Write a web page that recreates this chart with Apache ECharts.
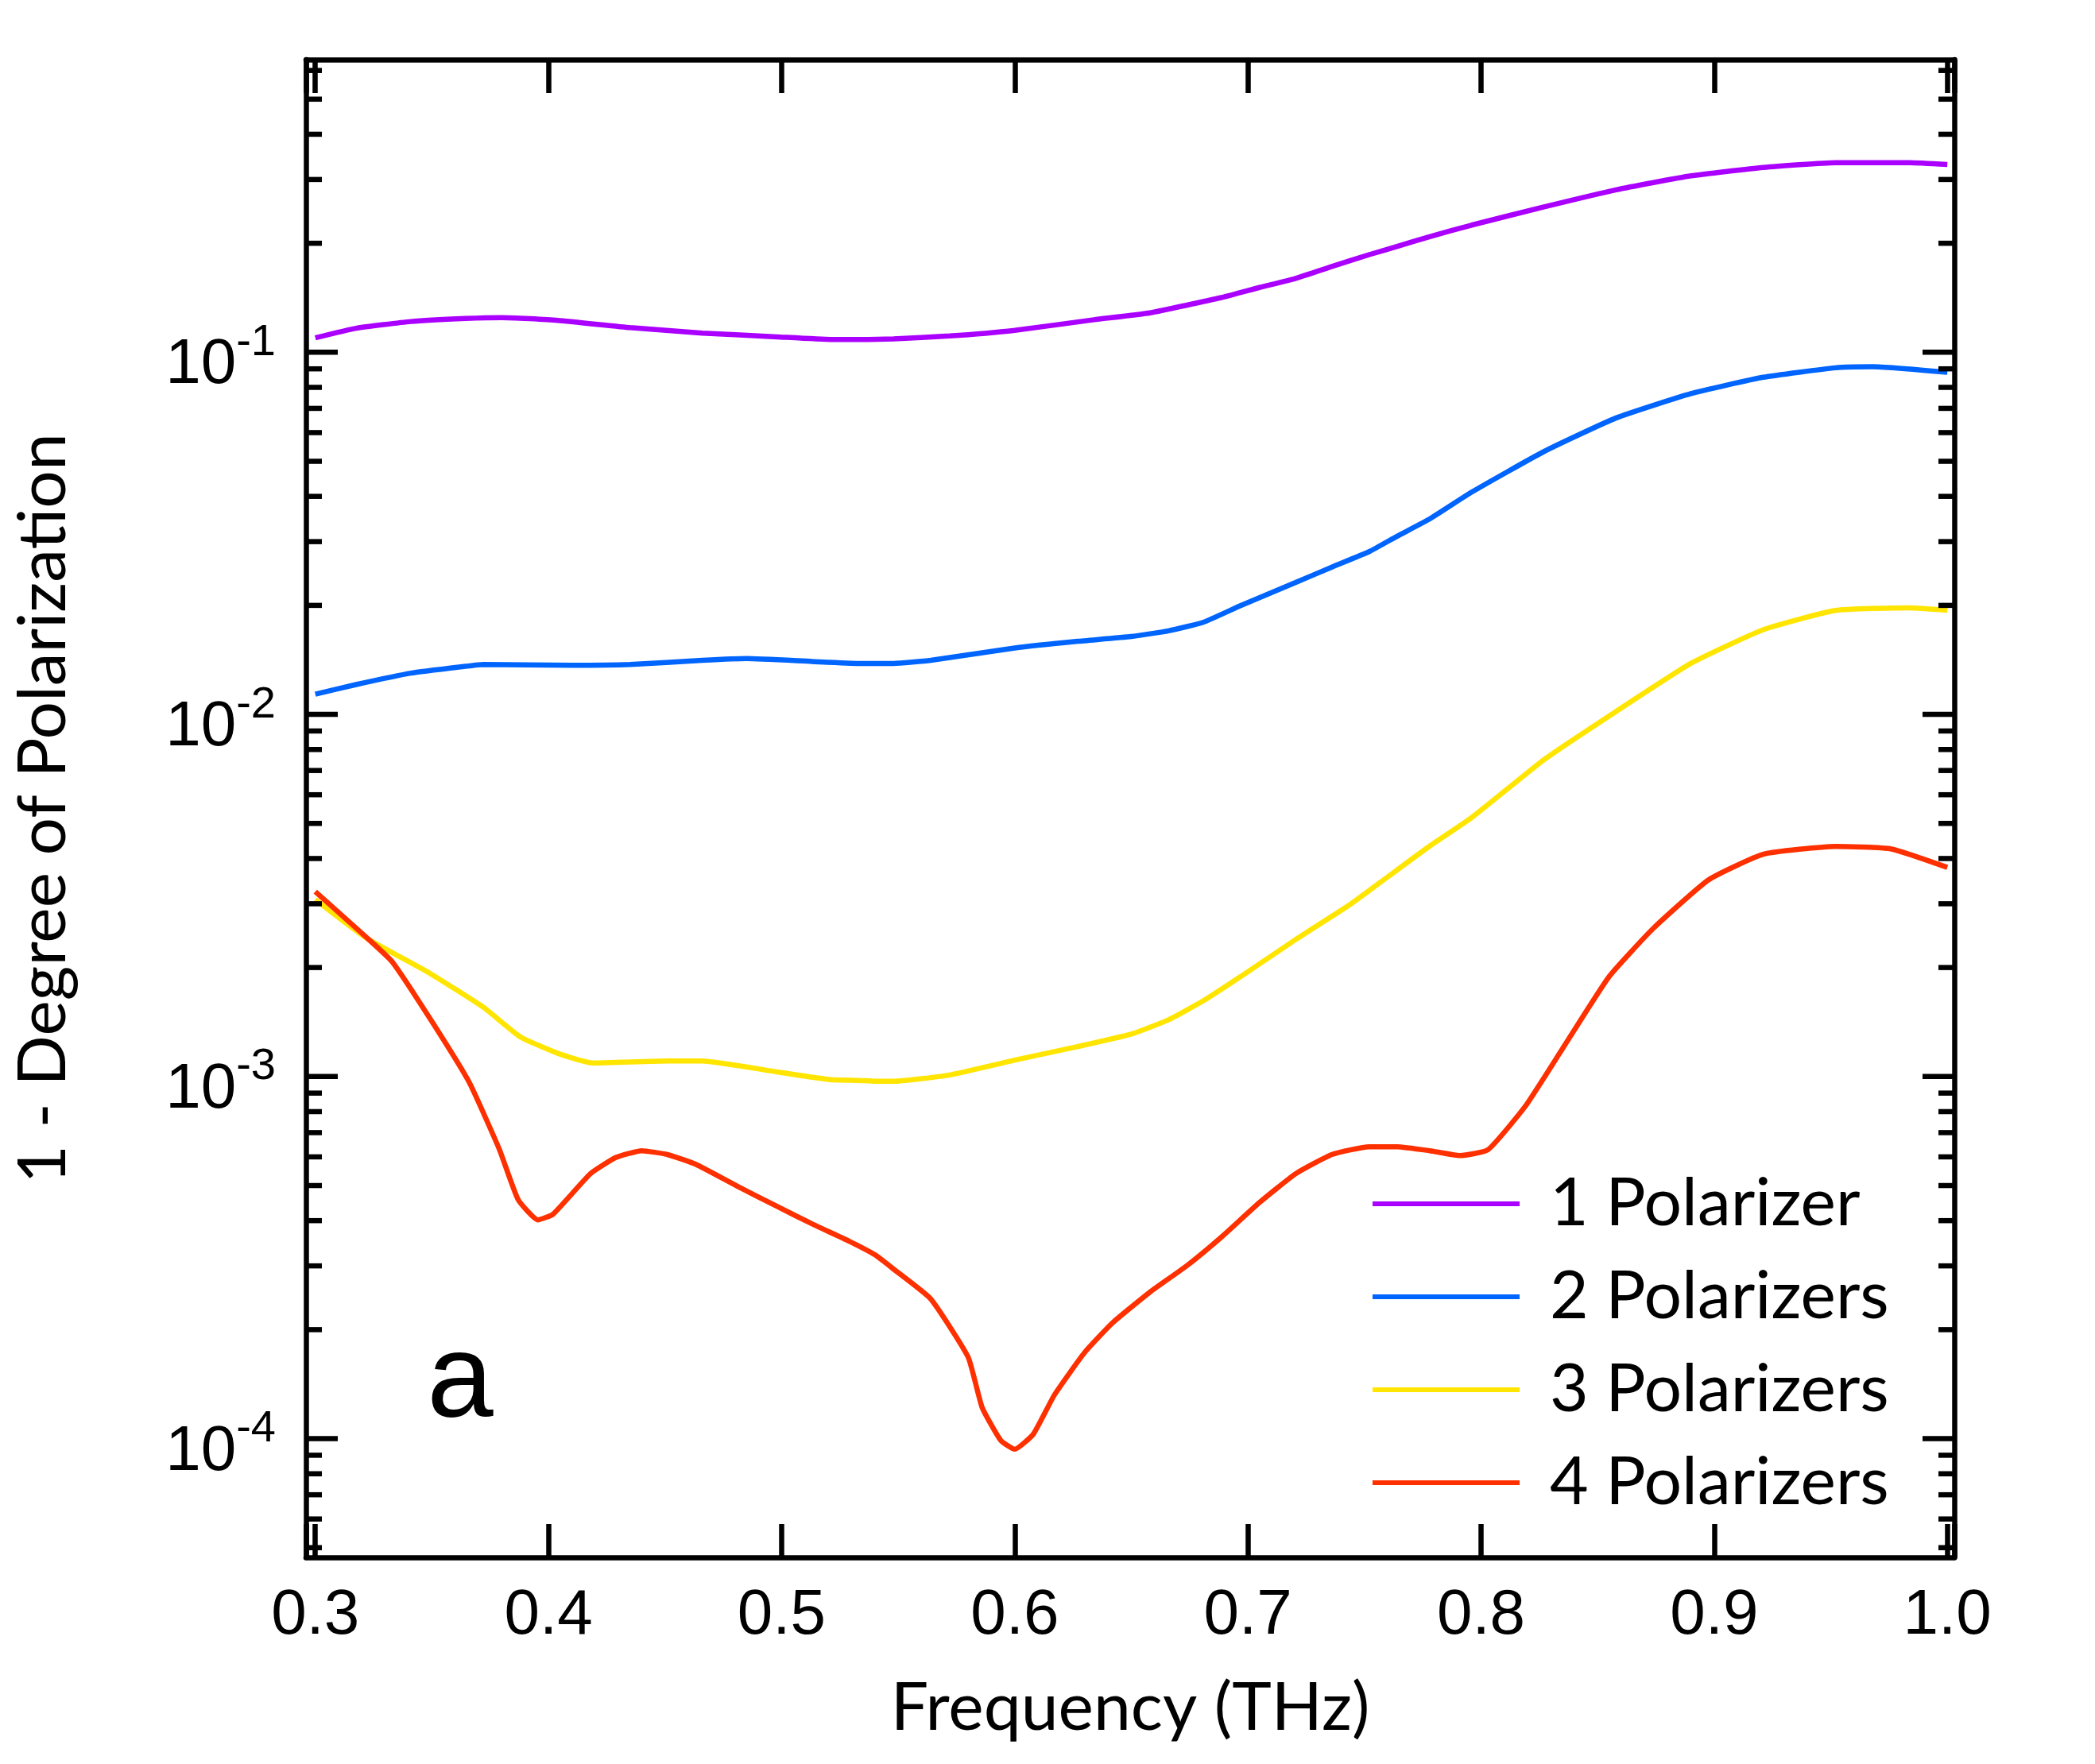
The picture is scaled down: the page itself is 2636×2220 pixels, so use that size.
<!DOCTYPE html>
<html>
<head>
<meta charset="utf-8">
<script src="https://cdn.jsdelivr.net/npm/echarts@6/dist/echarts.min.js"></script>
<style>
html,body{margin:0;padding:0;background:#fff}
#chart{width:2636px;height:2220px}
</style>
</head>
<body>
<div id="chart"></div>
<script>
// values
var freq1 = [0.300,0.3175,0.341,0.3645,0.380,0.404,0.435,0.466,0.498,0.521,0.533,0.548,0.572,0.600,0.634,0.658,0.689,0.705,0.7205,0.736,0.752,0.764,0.778,0.796,0.827,0.858,0.890,0.921,0.952,0.984,1.0];
var pol1  = [0.1096,0.1165,0.1216,0.124,0.1247,0.1225,0.117,0.113,0.1103,0.1085,0.1085,0.1089,0.1109,0.115,0.123,0.1285,0.1418,0.151,0.160,0.1725,0.186,0.196,0.2086,0.2245,0.252,0.281,0.307,0.324,0.334,0.334,0.330];

var freq2 = [0.300,0.3175,0.341,0.3645,0.372,0.410,0.435,0.466,0.485,0.513,0.533,0.548,0.564,0.600,0.627,0.650,0.666,0.681,0.697,0.7205,0.736,0.752,0.764,0.778,0.796,0.827,0.858,0.890,0.921,0.952,0.968,1.0];
var pol2  = [0.01137,0.01209,0.0130,0.01358,0.01374,0.01367,0.01374,0.0141,0.01426,0.0140,0.01383,0.01383,0.0141,0.01526,0.01592,0.01641,0.01702,0.01798,0.01999,0.02313,0.02552,0.02814,0.03105,0.03466,0.0411,0.0532,0.0659,0.0769,0.0853,0.0906,0.0912,0.088];

var freq3 = [0.300,0.322,0.349,0.372,0.388,0.404,0.419,0.451,0.466,0.498,0.521,0.533,0.540,0.548,0.572,0.600,0.627,0.650,0.666,0.681,0.697,0.7205,0.744,0.760,0.778,0.796,0.827,0.858,0.890,0.921,0.952,0.984,1.0];
var pol3  = [0.00308,0.00241,0.00193,0.001555,0.001286,0.001159,0.00109,0.001104,0.001104,0.00103,0.00098,0.000976,0.00097,0.00097,0.00101,0.00111,0.00121,0.00131,0.001435,0.00162,0.00189,0.00239,0.00299,0.00356,0.00433,0.00519,0.0075,0.0102,0.01383,0.01714,0.01937,0.0197,0.0194];

var freq4 = [0.300,0.322,0.333,0.350,0.366,0.379,0.387,0.3955,0.402,0.418,0.429,0.440,0.451,0.463,0.482,0.498,0.513,0.529,0.540,0.548,0.564,0.580,0.586,0.594,0.600,0.608,0.617,0.630,0.642,0.658,0.674,0.689,0.705,0.7205,0.736,0.752,0.764,0.778,0.791,0.803,0.819,0.835,0.855,0.874,0.8975,0.921,0.952,0.976,1.0];
var pol4  = [0.00324,0.00242,0.002074,0.001419,0.000964,0.000628,0.000457,0.000402,0.000417,0.000539,0.000598,0.000624,0.000609,0.000573,0.000494,0.000438,0.000392,0.000351,0.000322,0.000294,0.000243,0.000168,0.000122,0.0000989,0.0000935,0.000103,0.000132,0.000173,0.000209,0.000254,0.000301,0.000362,0.000449,0.000539,0.000609,0.00064,0.00064,0.000624,0.000605,0.000628,0.000828,0.001195,0.00189,0.00257,0.00349,0.00411,0.00432,0.00425,0.00378];

var seriesNames  = ['1 Polarizer','2 Polarizers','3 Polarizers','4 Polarizers'];
var seriesColors = ['#aa00ff','#0064ff','#ffe500','#ff3000'];
var yTickPowers  = [-4,-3,-2,-1];
var minorMult    = [2,3,4,5,6,7,8,9];

var X_MIN = 0.296, X_MAX = 1.003;
var Y_MIN = 4.7e-5, Y_MAX = 0.643;

function pairs(xs, ys){
    var out = [];
    for (var i = 0; i < xs.length; i++) out.push([xs[i], ys[i]]);
    return out;
}

// y ticks (major + minor) drawn on both sides of the frame
var yTicks = [];
for (var d = -5; d <= 0; d++) {
    if (yTickPowers.indexOf(d) >= 0) yTicks.push([X_MIN, Math.pow(10, d), 40]);
    for (var k = 0; k < minorMult.length; k++) {
        var v = minorMult[k] * Math.pow(10, d);
        if (v > Y_MIN && v < Y_MAX) yTicks.push([X_MIN, v, 20]);
    }
}

function renderTicks(params, api){
    var p = api.coord([api.value(0), api.value(1)]);
    var cs = params.coordSys;
    var len = api.value(2);
    var st = {stroke:'#000', lineWidth:6.5};
    return {type:'group', children:[
        {type:'line', shape:{x1:cs.x, y1:p[1], x2:cs.x + len, y2:p[1]}, style:st},
        {type:'line', shape:{x1:cs.x + cs.width - len, y1:p[1], x2:cs.x + cs.width, y2:p[1]}, style:st}
    ]};
}

var tickFont = 'Liberation Sans';
var titleFont = 'Lato';

var myChart = echarts.init(document.getElementById('chart'));

var xLabel = function(v){
    var r = Math.round(v * 10);
    return Math.abs(v * 10 - r) < 1e-6 ? (r / 10).toFixed(1) : '';
};
var yLabel = function(v){
    var e = Math.log(v) / Math.LN10;
    var r = Math.round(e);
    if (Math.abs(e - r) > 1e-6) return '';
    return '{b|10}{s|' + r + '}';
};

var lines = [pairs(freq1,pol1), pairs(freq2,pol2), pairs(freq3,pol3), pairs(freq4,pol4)];
var series = [];
for (var i = 0; i < lines.length; i++) {
    series.push({
        name: seriesNames[i],
        type: 'line',
        data: lines[i],
        showSymbol: false,
        smooth: 0.15,
        color: seriesColors[i],
        lineStyle: {width: 6.5, color: seriesColors[i]},
        z: 3
    });
}
series.push({
    type: 'custom',
    renderItem: renderTicks,
    data: yTicks,
    silent: true,
    z: 5
});

var option = {
    backgroundColor: '#fff',
    animation: false,
    grid: {left: 385, right: 177, top: 75, bottom: 260, containLabel: false, outerBoundsMode: 'none'},
    legend: {
        data: seriesNames,
        orient: 'vertical',
        left: 1727, top: 1465,
        padding: 0,
        itemWidth: 185, itemHeight: 6, itemGap: 17,
        icon: 'rect',
        selectedMode: false,
        textStyle: {fontFamily: titleFont, fontSize: 84, lineHeight: 100, color: '#000', padding: [0,0,0,33]}
    },
    xAxis: [{
        type: 'value', min: X_MIN, max: X_MAX, splitNumber: 7,
        name: 'Frequency (THz)', nameLocation: 'middle', nameGap: 148,
        nameTextStyle: {fontFamily: titleFont, fontSize: 84, color: '#000'},
        axisLine: {show: true, lineStyle: {color: '#000', width: 6.5}},
        axisTick: {show: true, inside: true, length: 42, lineStyle: {color: '#000', width: 6.5}},
        axisLabel: {formatter: xLabel, fontFamily: tickFont, fontSize: 80, color: '#000', margin: 34},
        splitLine: {show: false}
    }, {
        type: 'value', min: X_MIN, max: X_MAX, splitNumber: 7, position: 'top',
        axisLine: {show: true, lineStyle: {color: '#000', width: 6.5}},
        axisTick: {show: true, inside: true, length: 42, lineStyle: {color: '#000', width: 6.5}},
        axisLabel: {show: false},
        splitLine: {show: false}
    }],
    yAxis: [{
        type: 'log', logBase: 10, min: Y_MIN, max: Y_MAX,
        name: '1 - Degree of Polarization', nameLocation: 'middle', nameGap: 288,
        nameTextStyle: {fontFamily: titleFont, fontSize: 84, color: '#000'},
        axisLine: {show: true, lineStyle: {color: '#000', width: 6.5}},
        axisTick: {show: false},
        axisLabel: {
            formatter: yLabel, margin: 38, color: '#000',
            rich: {
                b: {fontFamily: tickFont, fontSize: 80, lineHeight: 80, color: '#000', padding: [34,0,0,0]},
                s: {fontFamily: tickFont, fontSize: 56, lineHeight: 56, color: '#000', verticalAlign: 'top'}
            }
        },
        splitLine: {show: false}
    }, {
        type: 'log', logBase: 10, min: Y_MIN, max: Y_MAX, position: 'right',
        axisLine: {show: true, lineStyle: {color: '#000', width: 6.5}},
        axisTick: {show: false},
        axisLabel: {show: false},
        splitLine: {show: false}
    }],
    graphic: [{
        type: 'text', x: 579, y: 1742,
        style: {text: 'a', fontFamily: tickFont, fontSize: 150, fill: '#000', align: 'center', verticalAlign: 'middle'}
    }],
    series: series
};

myChart.setOption(option);
window.addEventListener('resize', myChart.resize);
</script>
</body>
</html>
